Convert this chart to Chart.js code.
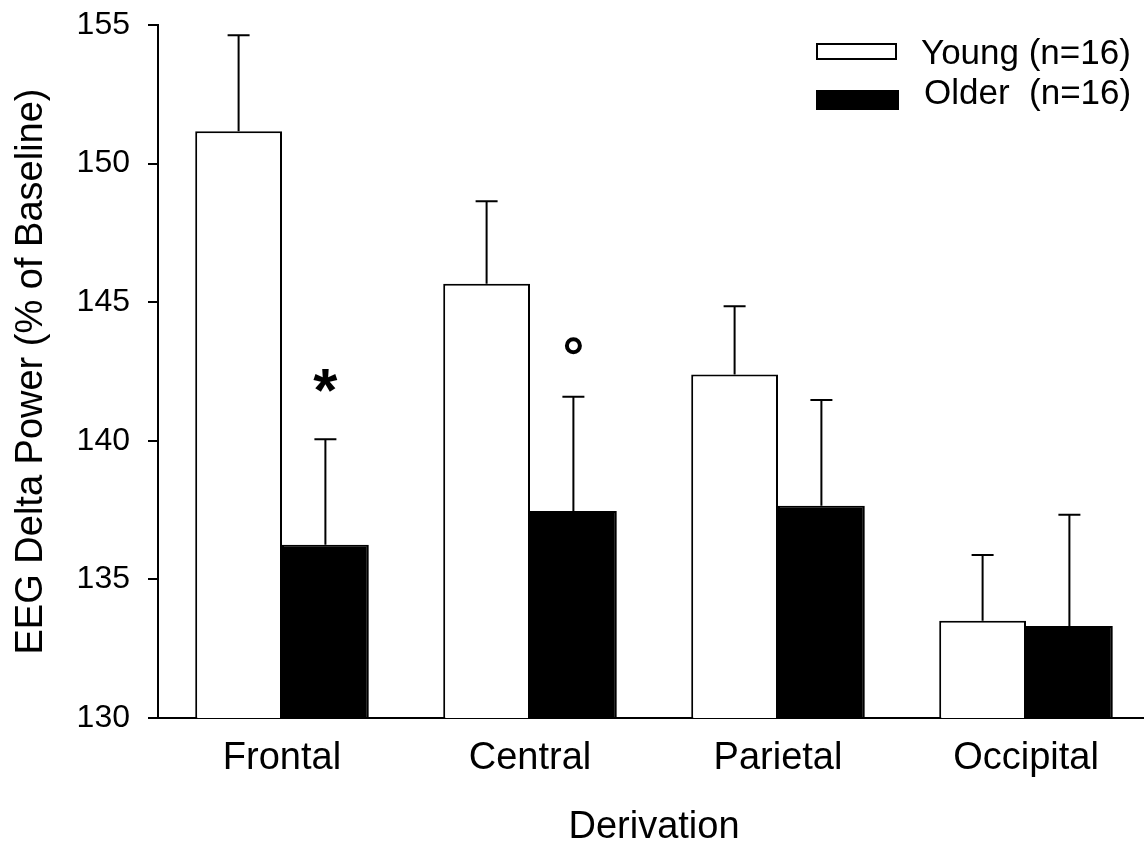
<!doctype html>
<html>

<head>
	<title>EEG Delta Power</title>
	<script src="https://cdn.jsdelivr.net/npm/chart.js@4"></script>
	<style>
	html, body {
		margin: 0;
		padding: 0;
		overflow: hidden;
		background: #fff;
	}
	canvas {
		display: block;
	}
	</style>
</head>

<body>
	<canvas id="canvas" width="1152" height="850"></canvas>
	<script>
		const derivations = ['Frontal', 'Central', 'Parietal', 'Occipital'];
		const youngMean = [151.17, 145.67, 142.39, 133.51];
		const youngSem = [3.46, 2.97, 2.46, 2.37];
		const olderMean = [136.25, 137.47, 137.66, 133.32];
		const olderSem = [3.81, 4.12, 3.81, 4.01];
		const olderMarks = ['*', 'o', '', ''];
		const yTicks = [130, 135, 140, 145, 150, 155];

		const FONT = "'Liberation Sans', Arial, sans-serif";

		// upward error bars + significance marks
		const errorBars = {
			id: 'errorBars',
			afterDatasetsDraw(chart) {
				const ctx = chart.ctx;
				const y = chart.scales.y;
				[youngSem, olderSem].forEach((sem, d) => {
					const meta = chart.getDatasetMeta(d);
					meta.data.forEach((bar, i) => {
						const top = y.getPixelForValue(chart.data.datasets[d].data[i] + sem[i]);
						ctx.save();
						ctx.strokeStyle = '#000';
						ctx.lineWidth = 2;
						ctx.beginPath();
						ctx.moveTo(bar.x, bar.y);
						ctx.lineTo(bar.x, top);
						ctx.moveTo(bar.x - 11, top);
						ctx.lineTo(bar.x + 11, top);
						ctx.stroke();

						if (d === 1 && olderMarks[i] === '*') {
							ctx.fillStyle = '#000';
							ctx.font = 'bold 62px ' + FONT;
							ctx.textAlign = 'center';
							ctx.textBaseline = 'alphabetic';
							const m = ctx.measureText('*');
							const cy = top - 59;
							ctx.fillText('*', bar.x, cy + (m.actualBoundingBoxAscent - m.actualBoundingBoxDescent) / 2);
						} else if (d === 1 && olderMarks[i] === 'o') {
							ctx.lineWidth = 4;
							ctx.beginPath();
							ctx.arc(bar.x, top - 51, 6.5, 0, Math.PI * 2);
							ctx.stroke();
						}
						ctx.restore();
					});
				});
			}
		};

		// legend box in the top right corner
		const cornerLegend = {
			id: 'cornerLegend',
			afterDraw(chart) {
				const ctx = chart.ctx;
				const ds = chart.data.datasets;
				const rows = [
					{box: [816, 43, 81, 17], tx: 921, ty: 63.5},
					{box: [816, 90, 83, 20], tx: 924, ty: 104}
				];
				ctx.save();
				rows.forEach((r, i) => {
					const [bx, by, bw, bh] = r.box;
					ctx.fillStyle = ds[i].backgroundColor;
					ctx.fillRect(bx, by, bw, bh);
					ctx.strokeStyle = '#000';
					ctx.lineWidth = 2;
					ctx.strokeRect(bx + 1, by + 1, bw - 2, bh - 2);
					ctx.fillStyle = '#000';
					ctx.font = '35px ' + FONT;
					ctx.textAlign = 'left';
					ctx.textBaseline = 'alphabetic';
					ctx.fillText(ds[i].label, r.tx, r.ty);
				});
				ctx.restore();
			}
		};

		window.onload = function() {
			const ctx = document.getElementById('canvas').getContext('2d');
			window.myBar = new Chart(ctx, {
				type: 'bar',
				data: {
					labels: derivations,
					datasets: [{
						label: 'Young (n=16)',
						data: youngMean,
						backgroundColor: '#ffffff',
						borderColor: '#000000',
						borderWidth: 2
					}, {
						label: 'Older  (n=16)',
						data: olderMean,
						backgroundColor: '#000000',
						borderColor: '#000000',
						borderWidth: 2
					}]
				},
				options: {
					responsive: false,
					animation: false,
					devicePixelRatio: 1,
					categoryPercentage: 0.70,
					barPercentage: 1.0,
					layout: {
						padding: {top: 25, right: 2, left: 0, bottom: 0}
					},
					plugins: {
						legend: {display: false},
						tooltip: {enabled: false}
					},
					scales: {
						x: {
							grid: {display: false, drawTicks: false},
							border: {display: true, color: '#000', width: 2},
							ticks: {
								color: '#000',
								padding: 18,
								font: {family: FONT, size: 38}
							},
							title: {
								display: true,
								text: 'Derivation',
								color: '#000',
								padding: {top: 0, bottom: 0},
								font: {family: FONT, size: 38}
							},
							afterFit(scale) {
								scale.height = 132;
							}
						},
						y: {
							min: 130,
							max: 155,
							afterBuildTicks(scale) {
								scale.ticks = yTicks.map(v => ({value: v}));
							},
							grid: {
								drawOnChartArea: false,
								drawTicks: true,
								tickLength: 10,
								color: '#000',
								lineWidth: 2
							},
							border: {display: true, color: '#000', width: 2},
							ticks: {
								color: '#000',
								padding: 18,
								font: {family: FONT, size: 32, lineHeight: 0.4}
							},
							title: {
								display: true,
								text: 'EEG Delta Power (% of Baseline)',
								color: '#000',
								padding: {top: 9, bottom: 0},
								font: {family: FONT, size: 38}
							},
							afterFit(scale) {
								scale.width = 158;
							}
						}
					}
				},
				plugins: [errorBars, cornerLegend]
			});
		};
	</script>
</body>

</html>
